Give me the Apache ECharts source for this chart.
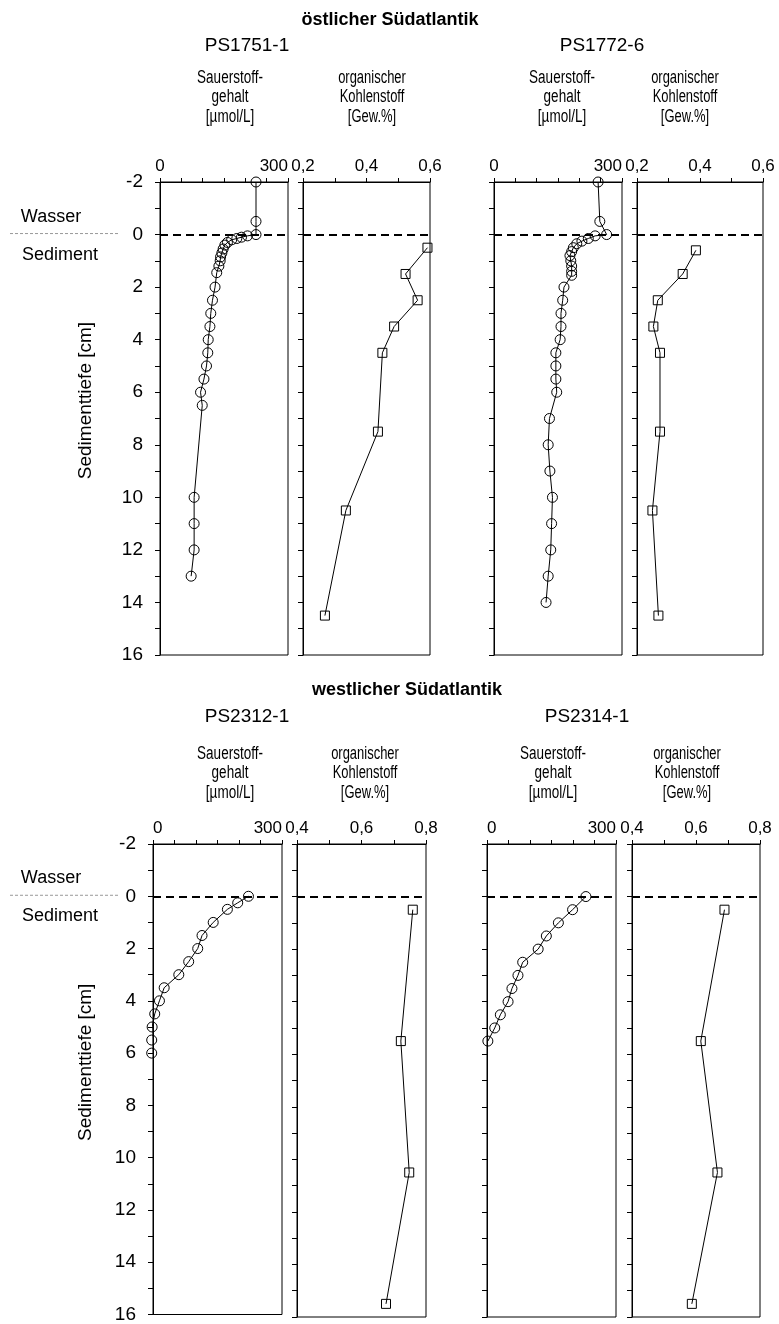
<!DOCTYPE html>
<html><head><meta charset="utf-8">
<script src="https://cdn.jsdelivr.net/npm/echarts@6/dist/echarts.min.js"></script>
<style>html,body{margin:0;padding:0;background:#fff}#c{width:779px;height:1324px}</style>
</head><body><div id="c"></div>
<script>
// ---------- DATA ----------
// PS1751-1 (östlicher Südatlantik)
const o2Depth_PS1751 = [-2, -0.5, 0, 0.05, 0.1, 0.15, 0.2, 0.3, 0.4, 0.55, 0.7, 0.85, 1.0, 1.2, 1.45, 2, 2.5, 3, 3.5, 4, 4.5, 5, 5.5, 6, 6.5, 10, 11, 12, 13];
const o2_PS1751      = [225, 225, 225, 205, 191, 180, 168, 158, 152, 148, 145, 142, 141, 138, 133, 129, 123, 119, 117, 113, 112, 109, 103, 95, 99, 80, 80, 80, 73];
const tocDepth_PS1751 = [0.5, 1.5, 2.5, 3.5, 4.5, 7.5, 10.5, 14.5];
const toc_PS1751      = [0.592, 0.523, 0.561, 0.487, 0.45, 0.436, 0.335, 0.269];
// PS1772-6
const o2Depth_PS1772 = [-2, -0.5, 0, 0.05, 0.15, 0.25, 0.35, 0.5, 0.65, 0.8, 1.0, 1.2, 1.4, 1.55, 2, 2.5, 3, 3.5, 4, 4.5, 5, 5.5, 6, 7, 8, 9, 10, 11, 12, 13, 14];
const o2_PS1772      = [244, 248, 264, 237, 221, 206, 194, 186, 182, 178, 180, 182, 182, 182, 164, 161, 157, 157, 155, 145, 145, 145, 147, 130, 127, 131, 137, 135, 133, 127, 122];
const tocDepth_PS1772 = [0.6, 1.5, 2.5, 3.5, 4.5, 7.5, 10.5, 14.5];
const toc_PS1772      = [0.387, 0.345, 0.266, 0.252, 0.273, 0.273, 0.249, 0.268];
// PS2312-1 (westlicher Südatlantik)
const o2Depth_PS2312 = [0, 0.25, 0.5, 1, 1.5, 2, 2.5, 3, 3.5, 4, 4.5, 5, 5.5, 6];
const o2_PS2312      = [222, 197, 173, 140, 114, 104, 83, 60, 26, 15, 4, -2, -3, -3];
const tocDepth_PS2312 = [0.5, 5.5, 10.5, 15.5];
const toc_PS2312      = [0.759, 0.722, 0.748, 0.676];
// PS2314-1
const o2Depth_PS2314 = [0, 0.5, 1, 1.5, 2, 2.5, 3, 3.5, 4, 4.5, 5, 5.5];
const o2_PS2314      = [230, 199, 166, 138, 119, 83, 72, 58, 49, 31, 18, 2];
const tocDepth_PS2314 = [0.5, 5.5, 10.5, 15.5];
const toc_PS2314      = [0.689, 0.615, 0.667, 0.587];

// axis settings (tick labels)
const depthRange = [-2, 16];
const o2Range = [0, 300];
const o2TickLabels = [0, 300];
const tocRangeEast = [0.2, 0.6];
const tocRangeWest = [0.4, 0.8];
const tocTickLabelsEast = [0.2, 0.4, 0.6];
const tocTickLabelsWest = [0.4, 0.6, 0.8];

// texts
const regionTitles = ['östlicher Südatlantik', 'westlicher Südatlantik'];
const coreNames = ['PS1751-1', 'PS1772-6', 'PS2312-1', 'PS2314-1'];
const o2Header = ['Sauerstoff-', 'gehalt', '[µmol/L]'];
const tocHeader = ['organischer', 'Kohlenstoff', '[Gew.%]'];
const yAxisTitle = 'Sedimenttiefe [cm]';

// ---------- LAYOUT ----------
const FONT = "'Liberation Sans', Arial, Helvetica, sans-serif";
const panels = [
  {grid:{left:160, top:182, width:128, height:473}, kind:'o2', depth:o2Depth_PS1751, vals:o2_PS1751},
  {grid:{left:303, top:182, width:127, height:473}, kind:'toc', range:tocRangeEast, labels:tocTickLabelsEast, depth:tocDepth_PS1751, vals:toc_PS1751},
  {grid:{left:494, top:182, width:128, height:473}, kind:'o2', depth:o2Depth_PS1772, vals:o2_PS1772},
  {grid:{left:637, top:182, width:126, height:473}, kind:'toc', range:tocRangeEast, labels:tocTickLabelsEast, depth:tocDepth_PS1772, vals:toc_PS1772},
  {grid:{left:153, top:844, width:129, height:473}, kind:'o2', depth:o2Depth_PS2312, vals:o2_PS2312, minAlign:'left'},
  {grid:{left:297, top:844, width:129, height:473}, kind:'toc', range:tocRangeWest, labels:tocTickLabelsWest, depth:tocDepth_PS2312, vals:toc_PS2312},
  {grid:{left:487, top:844, width:129, height:473}, kind:'o2', depth:o2Depth_PS2314, vals:o2_PS2314, minAlign:'left'},
  {grid:{left:632, top:844, width:128, height:473}, kind:'toc', range:tocRangeWest, labels:tocTickLabelsWest, depth:tocDepth_PS2314, vals:toc_PS2314}
];

const grids = [], xAxes = [], yAxes = [], series = [];
panels.forEach((p, i) => {
  grids.push(Object.assign({show:true, borderColor:'#000', borderWidth:1, backgroundColor:'transparent'}, p.grid));
  const isO2 = p.kind === 'o2';
  const range = isO2 ? o2Range : p.range;
  const shown = isO2 ? o2TickLabels : p.labels;
  xAxes.push({
    gridIndex:i, type:'value', position:'top',
    min:range[0], max:range[1], interval: isO2 ? 50 : 0.1,
    axisLine:{show:true, onZero:false, lineStyle:{color:'#000', width:1}},
    axisTick:{show:true, length:4, lineStyle:{color:'#000', width:1}},
    splitLine:{show:false},
    axisLabel:{
      color:'#000', fontSize:17, fontFamily:FONT, margin:7,
      alignMaxLabel: isO2 ? 'right' : 'center',
      alignMinLabel: p.minAlign || 'center',
      formatter: v => shown.some(s => Math.abs(s - v) < 1e-6) ? (isO2 ? String(v) : v.toFixed(1).replace('.', ',')) : ''
    }
  });
  yAxes.push({
    gridIndex:i, type:'value', inverse:true, min:depthRange[0], max:depthRange[1], interval:1,
    axisLine:{show:true, onZero:false, lineStyle:{color:'#000', width:1}},
    axisTick:{show:true, length:5, lineStyle:{color:'#000', width:1}},
    splitLine:{show:false},
    axisLabel:{show: i % 4 === 0, color:'#000', fontSize:19, fontFamily:FONT, margin:17,
      formatter: v => (Math.round(v) % 2 === 0) ? String(v) : ''}
  });
  series.push({
    type:'line', xAxisIndex:i, yAxisIndex:i,
    data: p.depth.map((d, k) => [p.vals[k], d]),
    symbol: isO2 ? 'circle' : 'rect', symbolSize: isO2 ? 10 : 9,
    itemStyle:{color:'rgba(0,0,0,0)', borderColor:'#000', borderWidth:1},
    lineStyle:{color:'#000', width:1},
    clip:false, animation:false, emphasis:{disabled:true}, silent:true,
    markLine:{silent:true, symbol:['none','none'], animation:false,
      label:{show:false}, lineStyle:{type:[8,5], width:2, color:'#000'},
      data:[{yAxis:0}]}
  });
});

const chart = echarts.init(document.getElementById('c'), null, {renderer:'canvas'});
chart.setOption({backgroundColor:'#fff', animation:false, grid:grids, xAxis:xAxes, yAxis:yAxes, series:series});

// ---------- TEXT / ANNOTATIONS ----------
function txt(x, y, s, size, extra) {
  extra = extra || {};
  return {type:'text', x:x, y:y, scaleX: extra.sx || 1, rotation: extra.rot || 0, silent:true,
    style:{text:s, x:0, y:0, align:'center', verticalAlign:'middle', textAlign:'center', textVerticalAlign:'middle',
      fontSize:size, fontFamily:FONT, fontWeight: extra.bold ? 'bold' : 'normal', fill:'#000'}};
}
const g = [];
const rows = [
  {title:regionTitles[0], titleX:390, titleY:20, psY:46, hY:78, cores:[coreNames[0], coreNames[1]], psX:[247, 602],
   o2X:[230, 562], tocX:[372, 685], grid:0},
  {title:regionTitles[1], titleX:407, titleY:690, psY:717, hY:754, cores:[coreNames[2], coreNames[3]], psX:[247, 587],
   o2X:[230, 553], tocX:[365, 687], grid:4}
];
rows.forEach(r => {
  g.push(txt(r.titleX, r.titleY, r.title, 18, {bold:true}));
  r.cores.forEach((c, j) => {
    g.push(txt(r.psX[j], r.psY, c, 19));
    o2Header.forEach((h, k) => g.push(txt(r.o2X[j], r.hY + k * 19.5, h, 18, {sx:0.75})));
    tocHeader.forEach((h, k) => g.push(txt(r.tocX[j], r.hY + k * 19.5, h, 18, {sx:0.72})));
  });
  const zeroY = chart.convertToPixel({gridIndex:r.grid}, [0, 0])[1];
  g.push(txt(51, zeroY - 18, 'Wasser', 18));
  g.push(txt(60, zeroY + 20, 'Sediment', 18));
  g.push({type:'line', silent:true, shape:{x1:10, y1:zeroY - 1, x2:120, y2:zeroY - 1},
    style:{stroke:'#999', lineWidth:1, lineDash:[3,2]}});
  g.push(txt(86, zeroY + 166, yAxisTitle, 19, {rot:Math.PI / 2}));
});
chart.setOption({graphic:{elements:g}});
</script></body></html>
